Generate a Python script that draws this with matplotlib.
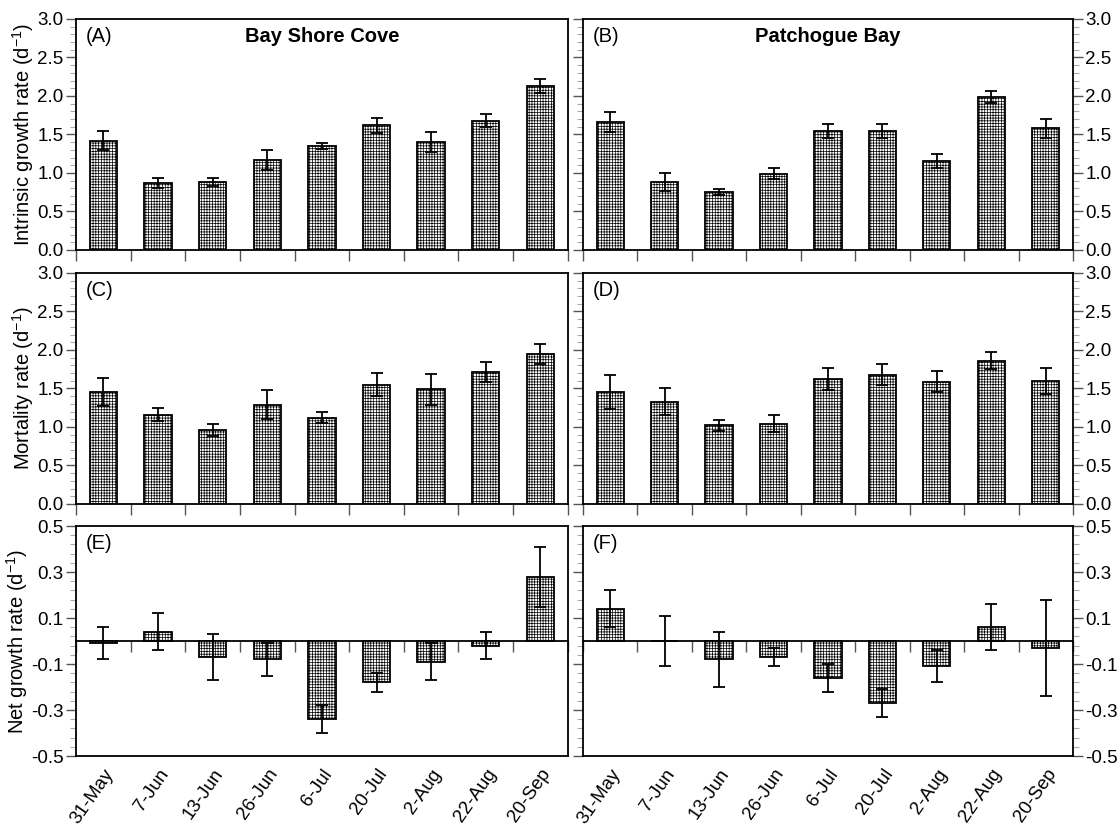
import matplotlib
matplotlib.use('Agg')
import matplotlib.pyplot as plt
import numpy as np
from matplotlib.ticker import MultipleLocator, FixedLocator

plt.rcParams['font.family'] = ['Liberation Sans', 'DejaVu Sans']
plt.rcParams['mathtext.fontset'] = 'custom'
plt.rcParams['mathtext.rm'] = 'Liberation Sans'
plt.rcParams['mathtext.it'] = 'Liberation Sans'
plt.rcParams['hatch.linewidth'] = 0.5
plt.rcParams['hatch.color'] = '#a0a0a0'

dates = ['31-May', '7-Jun', '13-Jun', '26-Jun', '6-Jul', '20-Jul', '2-Aug', '22-Aug', '20-Sep']
sites = ['Bay Shore Cove', 'Patchogue Bay']

# intrinsic growth rate (d-1) and SE
growth_bsc = [1.42, 0.87, 0.88, 1.17, 1.35, 1.62, 1.40, 1.68, 2.13]
growth_bsc_err = [0.12, 0.06, 0.05, 0.13, 0.04, 0.10, 0.13, 0.08, 0.09]
growth_pb = [1.66, 0.88, 0.75, 0.99, 1.54, 1.54, 1.16, 1.99, 1.58]
growth_pb_err = [0.13, 0.12, 0.04, 0.07, 0.09, 0.09, 0.09, 0.08, 0.12]

# mortality rate (d-1) and SE
mort_bsc = [1.45, 1.16, 0.96, 1.29, 1.12, 1.55, 1.49, 1.71, 1.95]
mort_bsc_err = [0.18, 0.08, 0.08, 0.19, 0.07, 0.15, 0.20, 0.13, 0.13]
mort_pb = [1.45, 1.33, 1.02, 1.04, 1.62, 1.68, 1.59, 1.86, 1.60]
mort_pb_err = [0.22, 0.18, 0.07, 0.11, 0.14, 0.14, 0.14, 0.11, 0.17]

# net growth rate (d-1) and SE
net_bsc = [-0.01, 0.04, -0.07, -0.08, -0.34, -0.18, -0.09, -0.02, 0.28]
net_bsc_err = [0.07, 0.08, 0.10, 0.07, 0.06, 0.04, 0.08, 0.06, 0.13]
net_pb = [0.14, 0.00, -0.08, -0.07, -0.16, -0.27, -0.11, 0.06, -0.03]
net_pb_err = [0.08, 0.11, 0.12, 0.04, 0.06, 0.06, 0.07, 0.10, 0.21]

rows = [
    ('Intrinsic growth rate (d$^{\\mathrm{-1}}$)', (growth_bsc, growth_bsc_err), (growth_pb, growth_pb_err)),
    ('Mortality rate (d$^{\\mathrm{-1}}$)', (mort_bsc, mort_bsc_err), (mort_pb, mort_pb_err)),
    ('Net growth rate (d$^{\\mathrm{-1}}$)', (net_bsc, net_bsc_err), (net_pb, net_pb_err)),
]
letters = [['(A)', '(B)'], ['(C)', '(D)'], ['(E)', '(F)']]

fig = plt.figure(figsize=(11.2, 8.33), dpi=100)
col_x = [(0.0679, 0.439), (0.5205, 0.4375)]
row_y = [(0.6999, 0.2773), (0.395, 0.2773), (0.0924, 0.2761)]

x = np.arange(len(dates))
bounds = np.arange(len(dates) + 1) - 0.5
tick_grey = '#555555'
minor_grey = '#aaaaaa'

for r, (ylabel, left, right) in enumerate(rows):
    for c, (vals, errs) in enumerate([left, right]):
        x0, w = col_x[c]
        y0, h = row_y[r]
        ax = fig.add_axes([x0, y0, w, h])
        ax.bar(x, vals, width=0.5, color='white', edgecolor='black',
               linewidth=1.3, hatch='++++++', zorder=2)
        ax.errorbar(x, vals, yerr=errs, fmt='none', ecolor='black',
                    elinewidth=1.3, capsize=4.5, capthick=1.3, zorder=3)
        ax.set_xlim(-0.5, len(dates) - 0.5)
        for s in ax.spines.values():
            s.set_linewidth(1.3)

        if r < 2:
            ax.set_ylim(0, 3.0)
            ax.yaxis.set_major_locator(MultipleLocator(0.5))
            ax.yaxis.set_minor_locator(MultipleLocator(0.1))
            ax.yaxis.set_major_formatter(plt.FormatStrFormatter('%.1f'))
            ax.set_xticks(bounds)
            ax.tick_params(axis='x', direction='out', length=8, width=1,
                           color=tick_grey, labelbottom=False)
        else:
            ax.set_ylim(-0.5, 0.5)
            ax.set_yticks([-0.5, -0.3, -0.1, 0.1, 0.3, 0.5])
            ax.yaxis.set_minor_locator(FixedLocator(np.linspace(-0.5, 0.5, 26)))
            ax.yaxis.set_major_formatter(plt.FormatStrFormatter('%.1f'))
            ax.set_xticks(x)
            ax.set_xticklabels(dates, rotation=55, ha='right',
                               rotation_mode='anchor', fontsize=13.5)
            ax.tick_params(axis='x', length=0, pad=7)
            zero = ax.secondary_xaxis(0.5)
            zero.set_alignment('bottom')
            zero.spines['bottom'].set_linewidth(1.3)
            zero.set_xticks(bounds)
            zero.tick_params(axis='x', direction='out', length=8, width=1,
                             color=tick_grey, labelbottom=False, labeltop=False)

        ax.tick_params(axis='y', which='major', direction='out', length=7,
                       width=1, color=tick_grey, labelsize=13.5, pad=2)
        ax.tick_params(axis='y', which='minor', direction='out', length=4,
                       width=0.8, color=minor_grey)
        if c == 0:
            ax.set_ylabel(ylabel, fontsize=14.5, labelpad=1)
        else:
            ax.yaxis.tick_right()
            ax.tick_params(axis='y', which='both', left=True, right=True)

        ax.text(0.02, 0.965, letters[r][c], transform=ax.transAxes,
                ha='left', va='top', fontsize=14.5)
        if r == 0:
            ax.text(0.5, 0.965, sites[c], transform=ax.transAxes,
                    ha='center', va='top', fontsize=14.5, fontweight='bold')

fig.savefig('out.png', dpi=100)
